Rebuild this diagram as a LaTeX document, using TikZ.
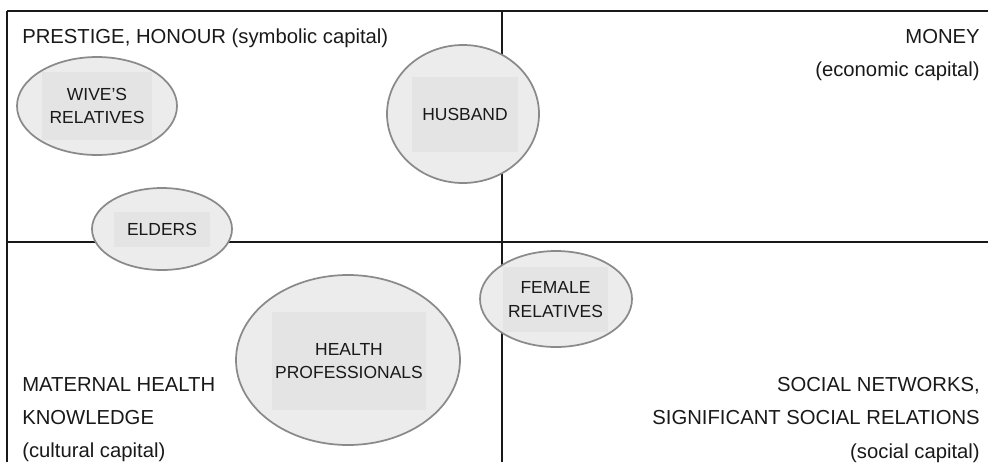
\documentclass[tikz,border=0pt]{standalone}
\usepackage{fontspec}
\setmainfont{Liberation Sans}
\usetikzlibrary{shapes.geometric}
\definecolor{ell_grey}{RGB}{236, 236, 236}
\definecolor{box_grey}{RGB}{228, 228, 228}
\definecolor{rim_grey}{RGB}{138, 138, 138}
\definecolor{ink}{RGB}{25, 25, 25}
\tikzstyle{en}=[ellipse,fill=ell_grey,draw=rim_grey,
  line width=1.3pt,inner sep=0pt]
\tikzstyle{bx}=[rectangle,fill=box_grey,inner sep=0pt,align=center,
  text=ink,font=\fontsize{13.1}{17.6}\selectfont]
\tikzstyle{lbl}=[inner sep=0pt,text=ink,font=\fontsize{15.2}{25}\selectfont]
\tikzstyle{frame}=[line width=1.4pt,draw=ink]
\tikzstyle{none}=[]

\begin{document}
\begin{tikzpicture}[x=0.75pt, y=-0.75pt]
    \useasboundingbox (0, 0) rectangle (988, 462);
    \node [style=none] (0) at (7, 11) {};
    \node [style=none] (1) at (988, 11) {};
    \node [style=none] (2) at (7, 462) {};
    \node [style=none] (3) at (7, 242) {};
    \node [style=none] (4) at (988, 242) {};
    \node [style=none] (5) at (502, 11) {};
    \node [style=none] (6) at (502, 462) {};
    \draw [style=frame] (0.center) to (1.center);
    \draw [style=frame] (0.center) to (2.center);
    \draw [style=frame] (3.center) to (4.center);
    \draw [style=frame] (5.center) to (6.center);
    \node [style=lbl, anchor=north west, align=left] (7) at (22, 28.5) {PRESTIGE, HONOUR (symbolic capital)};
    \node [style=lbl, anchor=north east, align=right] (8) at (980, 29) {MONEY\\(economic capital)};
    \node [style=lbl, anchor=north west, align=left] (9) at (22, 377) {MATERNAL HEALTH\\KNOWLEDGE\\(cultural capital)};
    \node [style=lbl, anchor=north east, align=right] (10) at (980, 377) {SOCIAL NETWORKS,\\SIGNIFICANT SOCIAL RELATIONS\\(social capital)};
    \node [style=en, minimum width=120pt, minimum height=73.5pt] (11) at (97, 106) {};
    \node [style=bx, minimum width=82.5pt, minimum height=51pt] (12) at (97, 106) {WIVE'S\\RELATIVES};
    \node [style=en, minimum width=114pt, minimum height=103.5pt] (13) at (463, 114) {};
    \node [style=bx, minimum width=79.5pt, minimum height=56.25pt] (14) at (465, 114.5) {HUSBAND};
    \node [style=en, minimum width=105pt, minimum height=61.5pt] (15) at (162, 229) {};
    \node [style=bx, minimum width=72pt, minimum height=26.25pt] (16) at (162, 229.5) {ELDERS};
    \node [style=en, minimum width=168pt, minimum height=127.5pt] (17) at (348, 360) {};
    \node [style=bx, minimum width=115.5pt, minimum height=73.5pt] (18) at (349, 361) {HEALTH\\PROFESSIONALS};
    \node [style=en, minimum width=114pt, minimum height=72pt] (19) at (556, 299) {};
    \node [style=bx, minimum width=78.75pt, minimum height=48.75pt] (20) at (555.5, 299.5) {FEMALE\\RELATIVES};
\end{tikzpicture}
\end{document}
